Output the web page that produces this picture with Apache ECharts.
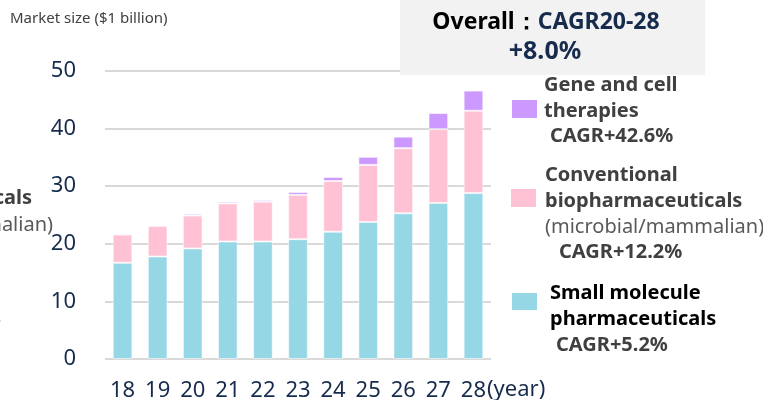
<!DOCTYPE html>
<html>
<head>
<meta charset="utf-8">
<script src="https://cdn.jsdelivr.net/npm/echarts@6/dist/echarts.min.js"></script>
<style>
  html, body { margin: 0; padding: 0; background: #fff; }
  #chart { width: 763px; height: 400px; }
</style>
</head>
<body>
<div id="chart"></div>
<script>
// years 2018-2028
const years = ['18', '19', '20', '21', '22', '23', '24', '25', '26', '27', '28']
const smallMolecule = [16.7, 17.8, 19.2, 20.4, 20.4, 20.8, 22.1, 23.8, 25.3, 27.1, 28.8]
const conventionalBio = [4.9, 5.3, 5.7, 6.6, 6.9, 7.7, 8.8, 9.9, 11.3, 12.8, 14.3]
const geneCell = [0.2, 0.2, 0.3, 0.3, 0.3, 0.5, 0.7, 1.4, 2.0, 2.8, 3.5]
const yTicks = [0, 10, 20, 30, 40, 50]

const FONT = 'Noto Sans'
const NAVY = '#172b4d'
const GREY = '#404040'

const chart = echarts.init(document.getElementById('chart'))

const barStyle = color => ({
  color: color,
  borderColor: 'rgba(255,255,255,0.55)',
  borderWidth: 1
})

const txt = (x, y, text, opts = {}) => ({
  type: 'text',
  x: x,
  y: y,
  z: 110,
  style: Object.assign({
    text: text,
    fontFamily: FONT,
    fontSize: 20,
    fontWeight: 'bold',
    fill: GREY,
    verticalAlign: 'middle'
  }, opts)
})

const swatch = (x, y, w, h, color) => ({
  type: 'rect',
  z: 110,
  shape: { x: x, y: y, width: w, height: h },
  style: { fill: color }
})

const option = {
  animation: false,
  textStyle: { fontFamily: FONT },
  grid: {
    left: 105, right: 272, top: 71, bottom: 41,
    containLabel: false,
    outerBoundsMode: 'none'
  },
  xAxis: {
    type: 'category',
    data: years,
    axisLine: { show: false },
    axisTick: { show: false },
    axisLabel: { color: NAVY, fontSize: 22, margin: 21, fontFamily: FONT }
  },
  yAxis: {
    type: 'value',
    min: yTicks[0],
    max: yTicks[yTicks.length - 1],
    interval: 10,
    axisLine: { show: false },
    axisTick: { show: false },
    axisLabel: { color: NAVY, fontSize: 22, margin: 29, fontFamily: FONT },
    splitLine: { lineStyle: { color: '#d9d9d9', width: 2 } }
  },
  series: [
    {
      name: 'Small molecule pharmaceuticals',
      type: 'bar',
      stack: 'total',
      barWidth: '56%',
      data: smallMolecule,
      itemStyle: barStyle('#96d7e6')
    },
    {
      name: 'Conventional biopharmaceuticals',
      type: 'bar',
      stack: 'total',
      data: conventionalBio,
      itemStyle: barStyle('#ffc1d4')
    },
    {
      name: 'Gene and cell therapies',
      type: 'bar',
      stack: 'total',
      data: geneCell,
      itemStyle: barStyle('#cc99ff')
    }
  ],
  graphic: [
    txt(10, 19, 'Market size ($1 billion)', { fontSize: 15, fontWeight: 'normal', fill: '#404040' }),
    // overall box
    { type: 'rect', z: 100, shape: { x: 400, y: 0, width: 305, height: 75 }, style: { fill: '#f2f2f2' } },
    {
      type: 'text',
      x: 546,
      y: 22,
      z: 110,
      style: {
        text: '{b|Overall：}{n|CAGR20-28}',
        align: 'center',
        verticalAlign: 'middle',
        rich: {
          b: { fontFamily: FONT, fontSize: 23, fontWeight: 'bold', fill: '#000' },
          n: { fontFamily: FONT, fontSize: 23, fontWeight: 'bold', fill: NAVY }
        }
      }
    },
    txt(545, 52, '+8.0%', { fontSize: 25, fill: NAVY, align: 'center' }),
    // legend: gene and cell
    swatch(512, 100, 25, 18, '#cc99ff'),
    txt(544, 85, 'Gene and cell'),
    txt(544, 111, 'therapies'),
    txt(550, 136, 'CAGR+42.6%'),
    // legend: conventional
    swatch(511, 189, 25, 18, '#ffc1d4'),
    txt(545, 175, 'Conventional'),
    txt(545, 201, 'biopharmaceuticals'),
    txt(545, 227, '(microbial/mammalian)', { fontWeight: 'normal', fill: '#595959' }),
    txt(559, 252, 'CAGR+12.2%'),
    // legend: small molecule
    swatch(512, 293, 25, 17, '#96d7e6'),
    txt(550, 293, 'Small molecule', { fill: '#000' }),
    txt(550, 319, 'pharmaceuticals', { fill: '#000' }),
    txt(556, 345, 'CAGR+5.2%'),
    // year unit
    txt(487, 390, '(year)', { fontSize: 22, fontWeight: 'normal', fill: NAVY }),
    // cut-off text at left edge
    txt(32, 198, 'biopharmaceuticals', { align: 'right' }),
    txt(53, 225, '(microbial/mammalian)', { align: 'right', fontWeight: 'normal', fill: '#595959' }),
    txt(1, 318, 'pharmaceuticals', { align: 'right', fill: '#000' })
  ]
}

chart.setOption(option)
</script>
</body>
</html>
